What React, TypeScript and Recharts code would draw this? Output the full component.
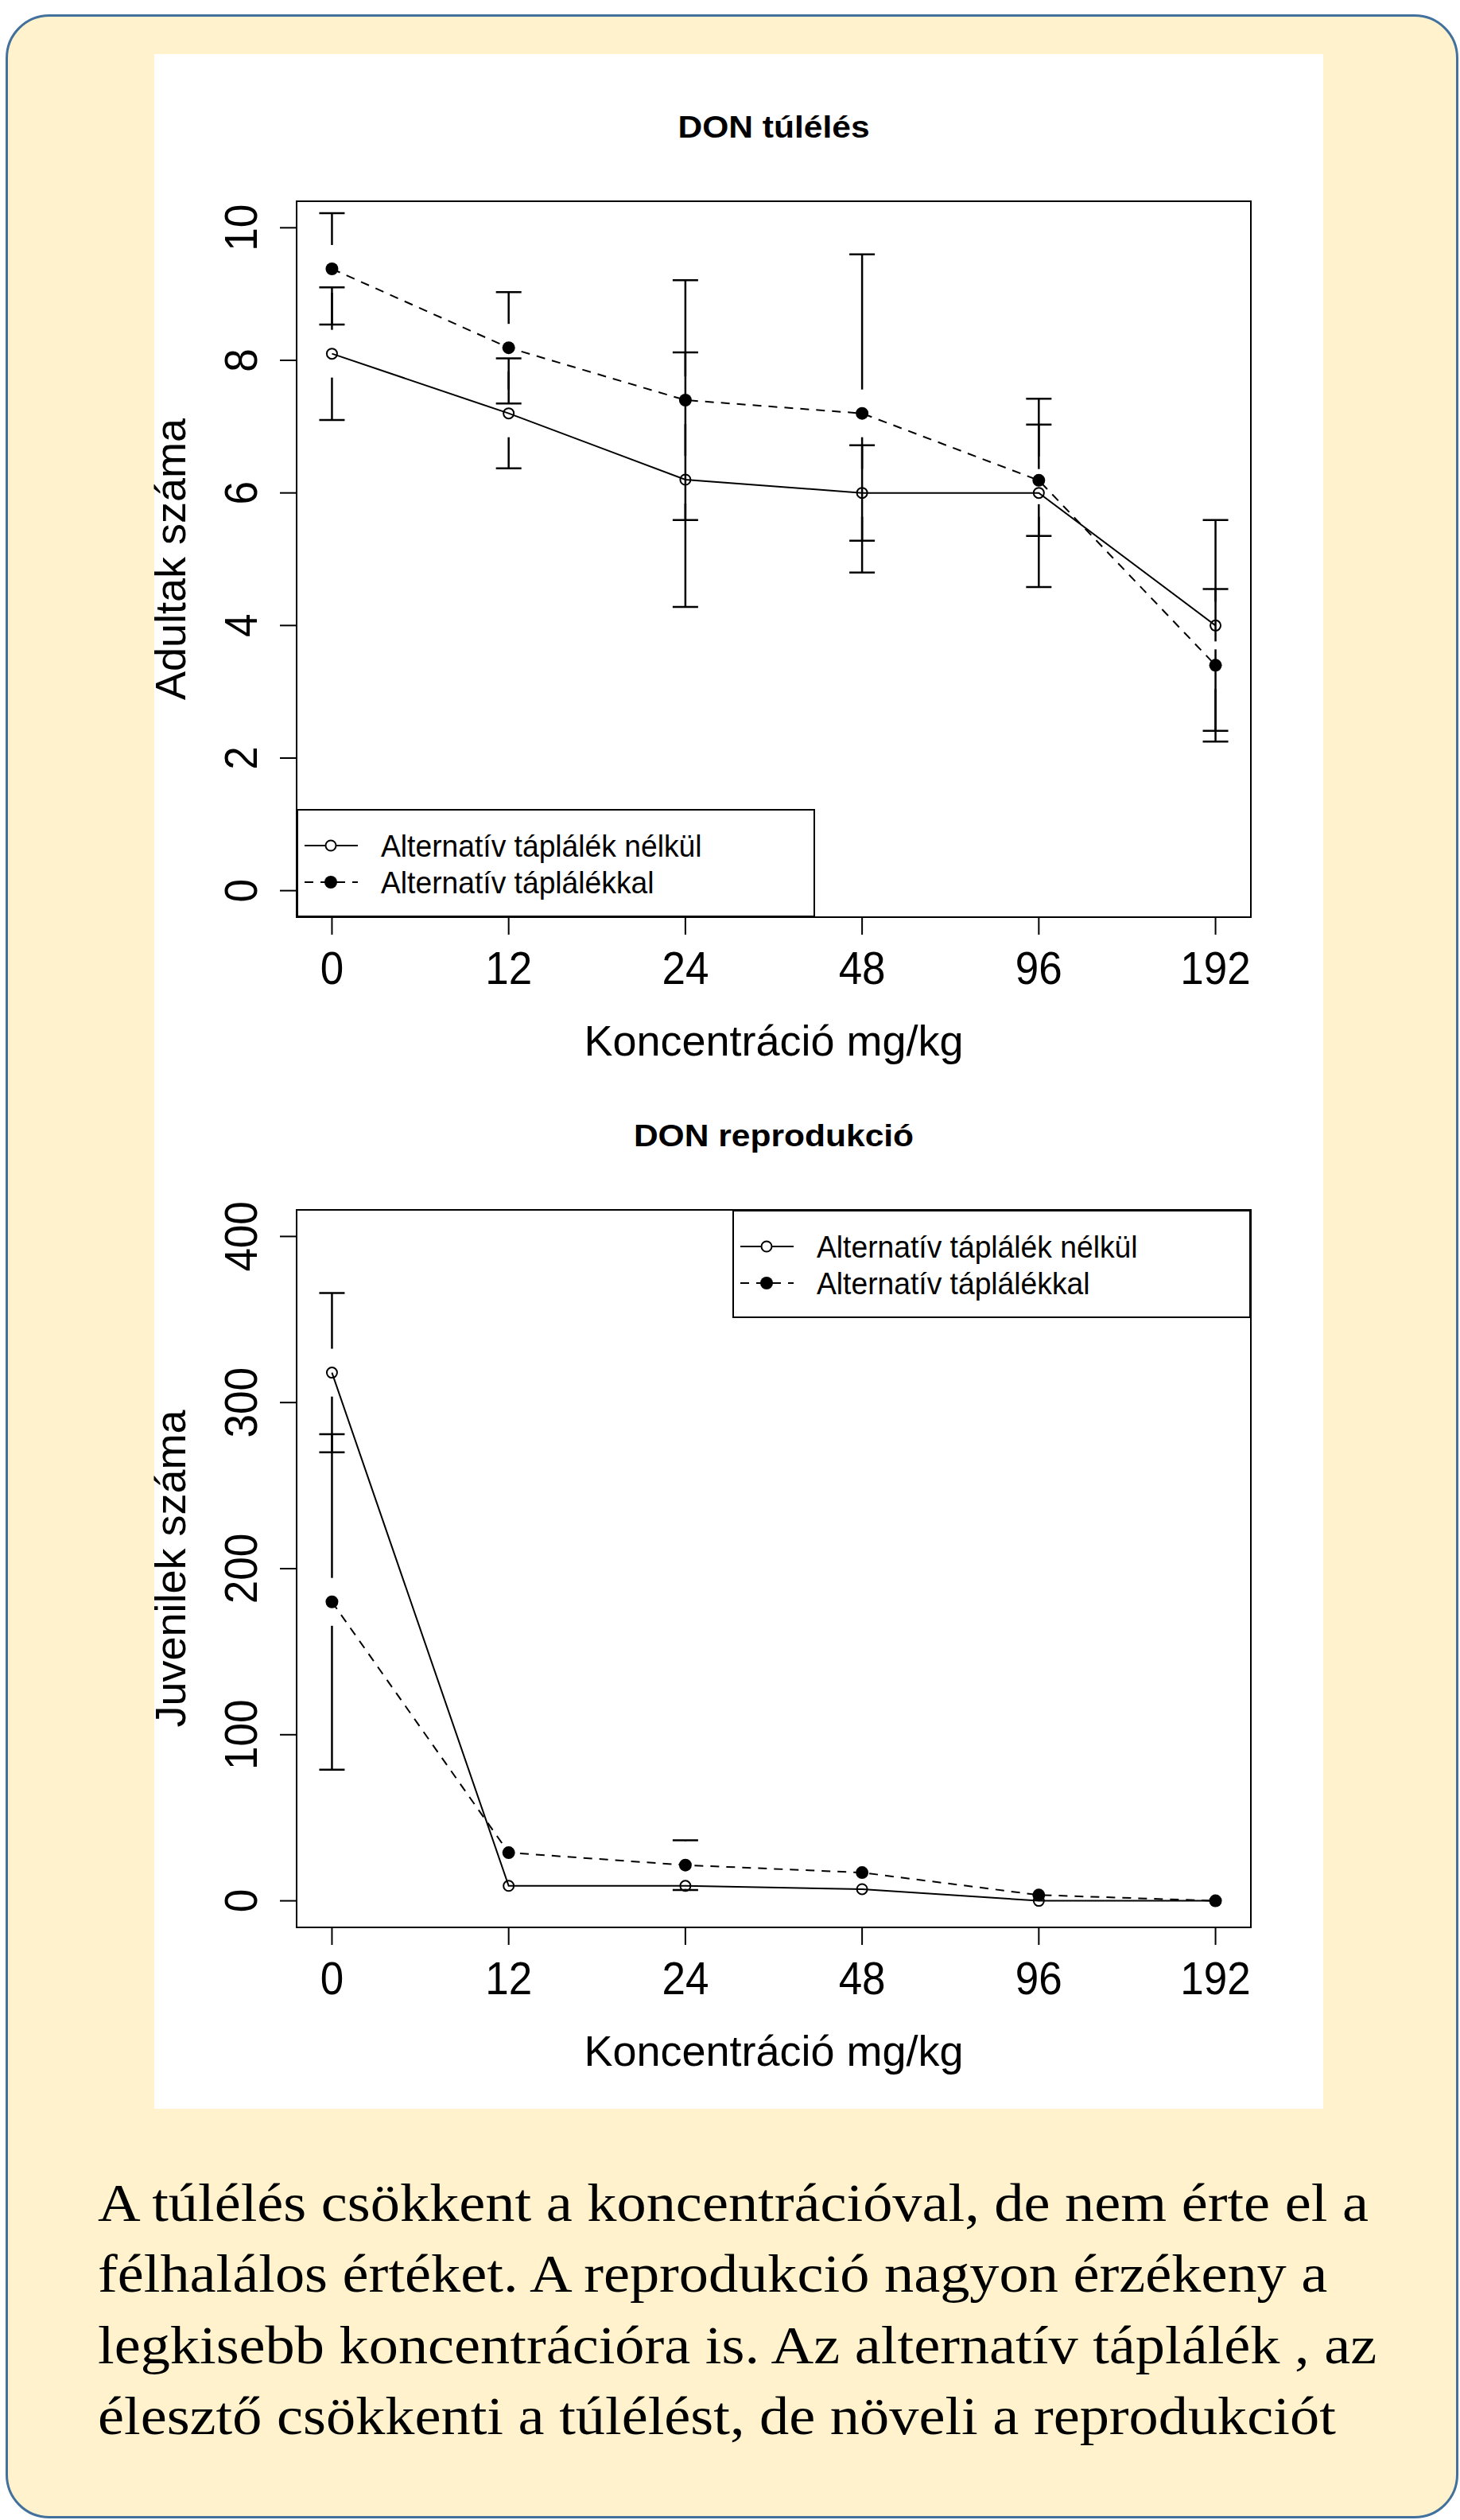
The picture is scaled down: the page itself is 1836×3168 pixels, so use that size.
import React from "react";
import {
  ComposedChart,
  Line,
  XAxis,
  YAxis,
  ReferenceArea,
  ReferenceLine,
  Legend,
} from "recharts";

// concentration groups (mg/kg), plotted at evenly spaced positions like the R original
const concLabels = ["0", "12", "24", "48", "96", "192"];
const xPos = [1, 2, 3, 4, 5, 6];

const seriesNames = ["Alternatív táplálék nélkül", "Alternatív táplálékkal"];

// DON túlélés
const survivalPlain = [8.1, 7.2, 6.2, 6.0, 6.0, 4.0];
const survivalPlainErr = [1.0, 0.83, 1.92, 0.72, 1.42, 1.59];
const survivalYeast = [9.38, 8.19, 7.4, 7.2, 6.19, 3.4];
const survivalYeastErr = [0.84, 0.84, 1.81, 2.4, 0.84, 1.15];
const survivalTicks = [0, 2, 4, 6, 8, 10];

// DON reprodukció
const reproPlain = [318, 9, 9, 7, 0, 0];
const reproPlainErr = [48, 2, 3, 1, 0, 0];
const reproYeast = [180, 29, 21.5, 17, 3.5, 0];
const reproYeastErr = [101, 14, 15, 8, 1, 0];
const reproTicks = [0, 100, 200, 300, 400];

const SANS = "'Liberation Sans', Arial, sans-serif";
const SERIF = "'Liberation Serif', 'Times New Roman', serif";
const CAP = 0.072;
const SHIFT = 40; // extra room left of the svg so rotated labels are not clipped

const summary = [
  "A túlélés csökkent a koncentrációval, de nem érte el a",
  "félhalálos értéket. A reprodukció nagyon érzékeny a",
  "legkisebb koncentrációra is. Az alternatív táplálék , az",
  "élesztő csökkenti a túlélést, de növeli a reprodukciót",
];

function buildRows(plain: number[], yeast: number[]) {
  return xPos.map((x, i) => ({ x, plain: plain[i], yeast: yeast[i] }));
}

// plotCI style bars: a gap around the point, caps at the ends
function errorSegments(vals: number[], errs: number[], gap: number) {
  const segs: { x: number; y: number }[][] = [];
  xPos.forEach((x, i) => {
    const y = vals[i];
    const hi = y + errs[i];
    const lo = y - errs[i];
    if (hi > y + gap) {
      segs.push([{ x, y: y + gap }, { x, y: hi }]);
      segs.push([{ x: x - CAP, y: hi }, { x: x + CAP, y: hi }]);
    }
    if (lo < y - gap) {
      segs.push([{ x, y: y - gap }, { x, y: lo }]);
      segs.push([{ x: x - CAP, y: lo }, { x: x + CAP, y: lo }]);
    }
  });
  return segs;
}

const XTick = (props: any) => {
  const { x, y, payload } = props;
  return (
    <text
      transform={`translate(${x},${y + 62}) scale(0.93,1)`}
      textAnchor="middle"
      fontFamily={SANS}
      fontSize={57}
      fill="#000"
    >
      {concLabels[xPos.indexOf(payload.value)]}
    </text>
  );
};

const YTick = (props: any) => {
  const { x, y, payload } = props;
  return (
    <text
      transform={`translate(${x - 29},${y}) rotate(-90) scale(0.93,1)`}
      textAnchor="middle"
      fontFamily={SANS}
      fontSize={57}
      fill="#000"
    >
      {payload.value}
    </text>
  );
};

const openDot = (p: any) => (
  <circle key={`o${p.index}`} cx={p.cx} cy={p.cy} r={6.5} fill="none" stroke="#000" strokeWidth={2} />
);
const fullDot = (p: any) => (
  <circle key={`f${p.index}`} cx={p.cx} cy={p.cy} r={8} fill="#000" />
);

function LegendBox() {
  const rows = [46, 92];
  return (
    <svg width={652} height={136} style={{ display: "block" }}>
      <rect x={1} y={1} width={650} height={134} fill="#fff" stroke="#000" strokeWidth={2} />
      <line x1={10} x2={77} y1={rows[0]} y2={rows[0]} stroke="#000" strokeWidth={2} />
      <circle cx={43} cy={rows[0]} r={6.5} fill="#fff" stroke="#000" strokeWidth={2} />
      <line x1={10} x2={77} y1={rows[1]} y2={rows[1]} stroke="#000" strokeWidth={2} strokeDasharray="11 9" />
      <circle cx={43} cy={rows[1]} r={8} fill="#000" />
      {seriesNames.map((n, i) => (
        <text
          key={n}
          transform={`translate(106,${rows[i] + 14}) scale(0.98,1)`}
          fontFamily={SANS}
          fontSize={38}
          fill="#000"
        >
          {n}
        </text>
      ))}
    </svg>
  );
}

interface PanelProps {
  title: string;
  yTitle: string;
  plain: number[];
  plainErr: number[];
  yeast: number[];
  yeastErr: number[];
  yDomain: [number, number];
  yTicks: number[];
  gap: number;
  height: number;
  marginTop: number;
  marginBottom: number;
  legendLeft: number;
  legendTop: number;
}

function DonPanel(p: PanelProps) {
  const rows = buildRows(p.plain, p.yeast);
  const bars = [
    ...errorSegments(p.plain, p.plainErr, p.gap),
    ...errorSegments(p.yeast, p.yeastErr, p.gap),
  ];
  const boxLabel = (lp: any) => {
    const vb = lp.viewBox;
    const cx = vb.x + vb.width / 2;
    const cy = vb.y + vb.height / 2;
    return (
      <g>
        <text
          transform={`translate(${cx},${vb.y - 80}) scale(1.12,1)`}
          textAnchor="middle"
          fontFamily={SANS}
          fontWeight="bold"
          fontSize={38}
          fill="#000"
        >
          {p.title}
        </text>
        <text x={cx} y={vb.y + vb.height + 174} textAnchor="middle" fontFamily={SANS} fontSize={54} fill="#000">
          Koncentráció mg/kg
        </text>
        <text
          transform={`translate(${vb.x - 140},${cy}) rotate(-90)`}
          textAnchor="middle"
          fontFamily={SANS}
          fontSize={54}
          fill="#000"
        >
          {p.yTitle}
        </text>
      </g>
    );
  };
  return (
    <ComposedChart
      width={1470 + SHIFT}
      height={p.height}
      data={rows}
      margin={{ top: p.marginTop, right: 91, bottom: p.marginBottom, left: 59 + SHIFT }}
    >
      <XAxis
        type="number"
        dataKey="x"
        domain={[0.8, 6.2]}
        ticks={xPos}
        interval={0}
        allowDataOverflow
        axisLine={false}
        tickLine={{ stroke: "#000", strokeWidth: 2 }}
        tickSize={22}
        tickMargin={0}
        tick={<XTick />}
        height={100}
      />
      <YAxis
        type="number"
        domain={p.yDomain}
        ticks={p.yTicks}
        interval={0}
        allowDataOverflow
        axisLine={false}
        tickLine={{ stroke: "#000", strokeWidth: 2 }}
        tickSize={21}
        tickMargin={0}
        tick={<YTick />}
        width={120}
      />
      <ReferenceArea
        x1={0.8}
        x2={6.2}
        y1={p.yDomain[0]}
        y2={p.yDomain[1]}
        fill="none"
        stroke="#000"
        strokeWidth={2}
        ifOverflow="visible"
        label={boxLabel}
      />
      {bars.map((s, i) => (
        <ReferenceLine key={i} segment={s} stroke="#000" strokeWidth={2.5} ifOverflow="visible" />
      ))}
      <Line
        type="linear"
        dataKey="plain"
        name={seriesNames[0]}
        stroke="#000"
        strokeWidth={2}
        dot={openDot}
        activeDot={false}
        isAnimationActive={false}
      />
      <Line
        type="linear"
        dataKey="yeast"
        name={seriesNames[1]}
        stroke="#000"
        strokeWidth={2}
        strokeDasharray="11 9"
        dot={fullDot}
        activeDot={false}
        isAnimationActive={false}
      />
      <Legend
        layout="vertical"
        align="center"
        verticalAlign="middle"
        wrapperStyle={{ left: p.legendLeft + SHIFT, top: p.legendTop, width: 652, height: 136 }}
        content={() => <LegendBox />}
      />
    </ComposedChart>
  );
}

export default function App() {
  return (
    <div style={{ position: "relative", width: 1836, height: 3168, background: "#fff", overflow: "hidden" }}>
      <style>{"body{margin:0}"}</style>
      <div
        style={{
          position: "absolute",
          left: 7,
          top: 18,
          width: 1827,
          height: 3148,
          boxSizing: "border-box",
          border: "3px solid #41719C",
          borderRadius: 55,
          background: "#FFF2CC",
        }}
      />
      <div style={{ position: "absolute", left: 194, top: 68, width: 1470, height: 2583, background: "#fff" }} />
      <div style={{ position: "absolute", left: 194 - SHIFT, top: 68 }}>
        <DonPanel
          title="DON túlélés"
          yTitle="Adultak száma"
          plain={survivalPlain}
          plainErr={survivalPlainErr}
          yeast={survivalYeast}
          yeastErr={survivalYeastErr}
          yDomain={[-0.4, 10.4]}
          yTicks={survivalTicks}
          gap={0.36}
          height={1290}
          marginTop={185}
          marginBottom={105}
          legendLeft={179}
          legendTop={949}
        />
      </div>
      <div style={{ position: "absolute", left: 194 - SHIFT, top: 1358 }}>
        <DonPanel
          title="DON reprodukció"
          yTitle="Juvenilek száma"
          plain={reproPlain}
          plainErr={reproPlainErr}
          yeast={reproYeast}
          yeastErr={reproYeastErr}
          yDomain={[-16, 416]}
          yTicks={reproTicks}
          gap={14.4}
          height={1293}
          marginTop={163}
          marginBottom={128}
          legendLeft={727}
          legendTop={163}
        />
      </div>
      <svg style={{ position: "absolute", left: 0, top: 2680 }} width={1836} height={420}>
        {summary.map((line, i) => (
          <text
            key={i}
            transform={`translate(123,${112 + i * 89.3}) scale(1.11,1)`}
            fontFamily={SERIF}
            fontSize={67}
            fill="#000"
          >
            {line}
          </text>
        ))}
      </svg>
    </div>
  );
}
